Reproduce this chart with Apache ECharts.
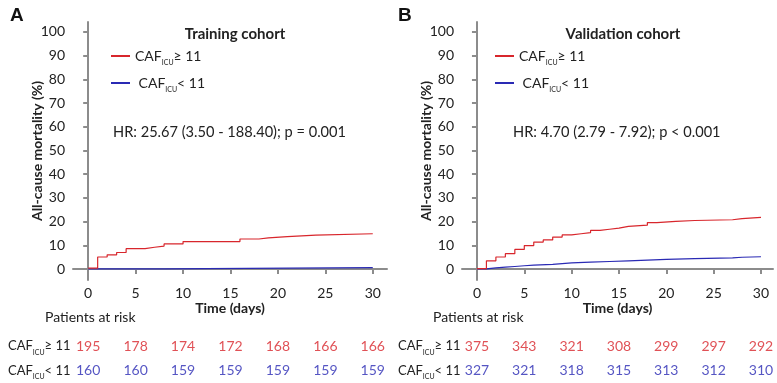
<!DOCTYPE html>
<html>
<head>
<meta charset="utf-8">
<script src="https://cdn.jsdelivr.net/npm/echarts@6/dist/echarts.min.js"></script>
<style>
  html, body { margin: 0; padding: 0; background: #fff; }
  #main { width: 777px; height: 383px; }
</style>
</head>
<body>
<div id="main"></div>
<script>
// step curves: [day, mortality %]
var trainHigh = [[0,0.4],[1,5.1],[2,6],[3,7],[4,8.6],[6,9.2],[7,9.7],[8,10.6],[10,11.6],[16,12.7],[18,13.2],[19,13.7],[21,14.3],[24,14.9],[30,14.9]];
var trainLow = [[0,0.1],[8,0.6],[30,0.6]];
var validHigh = [[0,0.2],[1,3.5],[2,5.1],[3,6.5],[4,8.3],[5,9.9],[6,11.4],[7,12.3],[8,13.5],[9,14.4],[10,14.9],[11,15.4],[12,16.3],[13,16.8],[14,17.3],[15,18],[16,18.5],[18,19.6],[19,20.1],[21,20.5],[23,20.8],[27,21.3],[28,21.8],[30,22]];
var validLow = [[0,0.1],[1,0.5],[2,0.8],[3,1.1],[4,1.4],[5,1.7],[6,2.0],[8,2.3],[9,2.6],[10,2.9],[12,3.2],[14,3.5],[16,3.8],[18,4.1],[20,4.4],[23,4.7],[27,5.0],[28,5.2],[30,5.2]];

var riskDays = [0, 5, 10, 15, 20, 25, 30];
var trainRiskHigh = [195, 178, 174, 172, 168, 166, 166];
var trainRiskLow = [160, 160, 159, 159, 159, 159, 159];
var validRiskHigh = [375, 343, 321, 308, 299, 297, 292];
var validRiskLow = [327, 321, 318, 315, 313, 312, 310];

var xTicks = [0, 5, 10, 15, 20, 25, 30];
var yTicks = [0, 10, 20, 30, 40, 50, 60, 70, 80, 90, 100];

var RED = '#d8262c', BLUE = '#2a2ab4';
var FONT = 'Lato';
var nameHigh = 'CAF_ICU ≥ 11', nameLow = 'CAF_ICU < 11';

function makeRich(size) {
    return {
        a: { fontFamily: FONT, fontSize: size, color: '#222', verticalAlign: 'bottom' },
        s: { fontFamily: FONT, fontSize: 7, color: '#222', verticalAlign: 'bottom', padding: [0, 0, -3, 0] }
    };
}
function cafLabel(name) {
    return name.indexOf('≥') >= 0 ? '{a|CAF}{s|ICU}{a|≥ 11}' : '{a|CAF}{s|ICU}{a|< 11}';
}
function cafLegend(name) {
    return name.indexOf('≥') >= 0 ? '{a|CAF}{s|ICU}{a|≥ 11}' : '{a| CAF}{s|ICU}{a|< 11}';
}

function riskData(vals, row) {
    return riskDays.map(function (d, i) { return [d, row, vals[i]]; });
}

var axisGray = { color: '#8c8c8c', width: 2 };

function plotX(grid, min, max) {
    return {
        gridIndex: grid, type: 'value', min: min, max: max,
        axisLine: { lineStyle: axisGray },
        axisTick: { customValues: xTicks, length: 5, lineStyle: axisGray },
        axisLabel: { customValues: xTicks, fontFamily: FONT, fontSize: 14, color: '#222', margin: 6 },
        splitLine: { show: false },
        name: 'Time (days)', nameLocation: 'middle', nameGap: 21, nameMoveOverlap: false,
        nameTextStyle: { fontFamily: FONT, fontSize: 14, fontWeight: 'bold', color: '#222' }
    };
}
function plotY(grid) {
    return {
        gridIndex: grid, type: 'value', min: -4.6, max: 104.2,
        axisLine: { show: true, lineStyle: axisGray },
        axisTick: { show: true, customValues: yTicks, length: 5, lineStyle: axisGray },
        axisLabel: { customValues: yTicks, fontFamily: FONT, fontSize: 14, color: '#222', margin: 8 },
        splitLine: { show: false },
        name: 'All-cause mortality (%)', nameLocation: 'middle', nameGap: 29, nameMoveOverlap: false,
        nameTextStyle: { fontFamily: FONT, fontSize: 14, fontWeight: 'bold', color: '#222' }
    };
}
function riskX(grid, min, max) {
    return { gridIndex: grid, type: 'value', min: min, max: max, show: false };
}
function riskY(grid, margin) {
    return {
        gridIndex: grid, type: 'category', data: [nameHigh, nameLow], inverse: true,
        axisLine: { show: false }, axisTick: { show: false },
        axisLabel: { align: 'left', margin: margin, formatter: cafLabel, rich: makeRich(13) }
    };
}
function km(name, data, color, xi, yi) {
    return {
        name: name, type: 'line', step: 'end', data: data, xAxisIndex: xi, yAxisIndex: yi,
        showSymbol: false, symbol: 'none', color: color,
        lineStyle: { width: 1.2, color: color }, animation: false
    };
}
function risk(vals, row, color, xi, yi) {
    return {
        type: 'scatter', data: riskData(vals, row), xAxisIndex: xi, yAxisIndex: yi,
        symbolSize: 1, itemStyle: { color: 'rgba(0,0,0,0)' }, animation: false,
        label: {
            show: true, position: 'inside', color: color, fontFamily: FONT, fontSize: 14,
            formatter: function (p) { return p.value[2]; }
        }
    };
}
function legend(left) {
    return {
        left: left, top: 44, orient: 'vertical', itemGap: 10,
        icon: 'rect', itemWidth: 19, itemHeight: 2, itemStyle: { borderWidth: 0 },
        data: [nameHigh, nameLow], selectedMode: false,
        formatter: cafLegend, textStyle: { rich: makeRich(14) }
    };
}

var chart = echarts.init(document.getElementById('main'));
chart.setOption({
    backgroundColor: '#fff',
    animation: false,
    title: [
        { text: 'A', left: 5, top: 1, textStyle: { fontFamily: 'Liberation Sans', fontSize: 19, fontWeight: 'bold', color: '#111' } },
        { text: 'B', left: 393, top: 1, textStyle: { fontFamily: 'Liberation Sans', fontSize: 19, fontWeight: 'bold', color: '#111' } },
        { text: 'Training cohort', left: 230, top: 22, textAlign: 'center', textStyle: { fontFamily: FONT, fontSize: 15, fontWeight: 'bold', color: '#222' } },
        { text: 'Validation cohort', left: 618, top: 22, textAlign: 'center', textStyle: { fontFamily: FONT, fontSize: 15, fontWeight: 'bold', color: '#222' } }
    ],
    legend: [legend(106), legend(490)],
    grid: [
        { left: 73, top: 22, width: 314, height: 258 },
        { left: 462, top: 22, width: 311, height: 258 },
        { left: 73, top: 334, width: 314, height: 50 },
        { left: 462, top: 334, width: 311, height: 50 }
    ],
    xAxis: [plotX(0, -1.6, 31.5), plotX(1, -1.58, 31.27), riskX(2, -1.6, 31.5), riskX(3, -1.58, 31.27)],
    yAxis: [plotY(0), plotY(1), riskY(2, 65), riskY(3, 64)],
    graphic: [
        { type: 'text', left: 113, top: 125, style: { text: 'HR: 25.67 (3.50 - 188.40); p = 0.001', fontFamily: FONT, fontSize: 14.6, fill: '#222' } },
        { type: 'text', left: 513, top: 125, style: { text: 'HR: 4.70 (2.79 - 7.92); p < 0.001', fontFamily: FONT, fontSize: 14.6, fill: '#222' } },
        { type: 'text', left: 45, top: 310, style: { text: 'Patients at risk', fontFamily: FONT, fontSize: 14, fill: '#222' } },
        { type: 'text', left: 433, top: 310, style: { text: 'Patients at risk', fontFamily: FONT, fontSize: 14, fill: '#222' } }
    ],
    series: [
        km(nameLow, trainLow, BLUE, 0, 0),
        km(nameHigh, trainHigh, RED, 0, 0),
        km(nameLow, validLow, BLUE, 1, 1),
        km(nameHigh, validHigh, RED, 1, 1),
        risk(trainRiskHigh, nameHigh, RED, 2, 2),
        risk(trainRiskLow, nameLow, BLUE, 2, 2),
        risk(validRiskHigh, nameHigh, RED, 3, 3),
        risk(validRiskLow, nameLow, BLUE, 3, 3)
    ]
});
</script>
</body>
</html>
